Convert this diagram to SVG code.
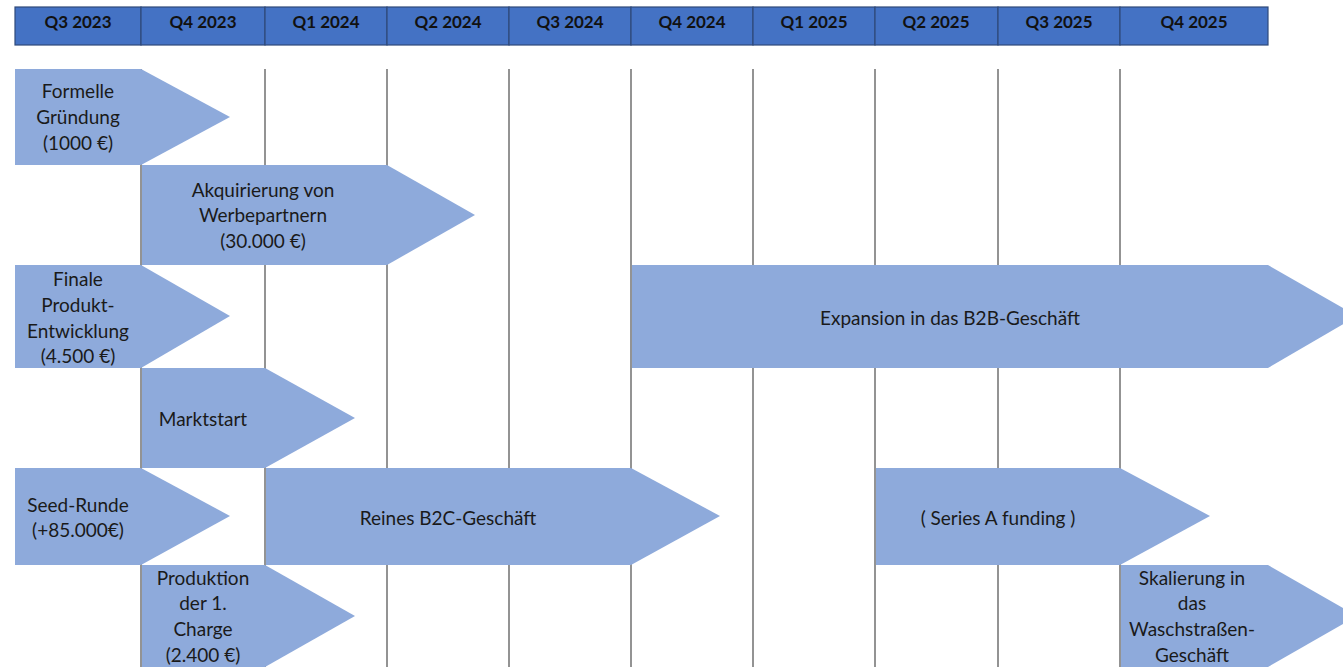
<svg xmlns="http://www.w3.org/2000/svg" width="1343" height="667" viewBox="0 0 1343 667">
<style>
.hdr{fill:#4472C4;stroke:#2F4A7A;stroke-width:1.2}
.htxt{font-family:Lato,"Open Sans",sans-serif;font-weight:bold;font-size:17px;fill:#111;text-anchor:middle}
.grid{stroke:#6f6f6f;stroke-width:1.5}
.arr{fill:#8EAADB}
.t{font-family:Lato,"Open Sans",sans-serif;font-size:19px;fill:#1a1a1a;text-anchor:middle}
</style>
<rect width="1343" height="667" fill="#fff"/>
<g id="header">
<rect class="hdr" x="15" y="7" width="126" height="38"/>
<rect class="hdr" x="141" y="7" width="124" height="38"/>
<rect class="hdr" x="265" y="7" width="122" height="38"/>
<rect class="hdr" x="387" y="7" width="122" height="38"/>
<rect class="hdr" x="509" y="7" width="122" height="38"/>
<rect class="hdr" x="631" y="7" width="122" height="38"/>
<rect class="hdr" x="753" y="7" width="122" height="38"/>
<rect class="hdr" x="875" y="7" width="123" height="38"/>
<rect class="hdr" x="998" y="7" width="122" height="38"/>
<rect class="hdr" x="1120" y="7" width="148" height="38"/>
<text class="htxt" x="78" y="28">Q3 2023</text>
<text class="htxt" x="203" y="28">Q4 2023</text>
<text class="htxt" x="326" y="28">Q1 2024</text>
<text class="htxt" x="448" y="28">Q2 2024</text>
<text class="htxt" x="570" y="28">Q3 2024</text>
<text class="htxt" x="692" y="28">Q4 2024</text>
<text class="htxt" x="814" y="28">Q1 2025</text>
<text class="htxt" x="936" y="28">Q2 2025</text>
<text class="htxt" x="1059" y="28">Q3 2025</text>
<text class="htxt" x="1194" y="28">Q4 2025</text>
</g>
<g id="connectors">
<line class="grid" x1="141" y1="69" x2="141" y2="667"/>
<line class="grid" x1="265" y1="69" x2="265" y2="667"/>
<line class="grid" x1="387" y1="69" x2="387" y2="667"/>
<line class="grid" x1="509" y1="69" x2="509" y2="667"/>
<line class="grid" x1="631" y1="69" x2="631" y2="667"/>
<line class="grid" x1="753" y1="69" x2="753" y2="667"/>
<line class="grid" x1="875" y1="69" x2="875" y2="667"/>
<line class="grid" x1="998" y1="69" x2="998" y2="667"/>
<line class="grid" x1="1120" y1="69" x2="1120" y2="667"/>
</g>
<g id="formelle">
<polygon class="arr" points="15,69 141,69 230,117 141,165 15,165"/>
<text class="t" x="78" y="98">Formelle</text>
<text class="t" x="78" y="124">Gründung</text>
<text class="t" x="78" y="150">(1000 €)</text>
</g>
<g id="akquirierung">
<polygon class="arr" points="142,165 387,165 475,215 387,265 142,265"/>
<text class="t" x="263" y="197">Akquirierung von</text>
<text class="t" x="263" y="222">Werbepartnern</text>
<text class="t" x="263" y="248">(30.000 €)</text>
</g>
<g id="finale">
<polygon class="arr" points="15,265 141,265 230,316 141,368 15,368"/>
<text class="t" x="78" y="286">Finale</text>
<text class="t" x="78" y="312">Produkt-</text>
<text class="t" x="78" y="338">Entwicklung</text>
<text class="t" x="78" y="363">(4.500 €)</text>
</g>
<g id="expansion">
<polygon class="arr" points="632,265 1268,265 1357,316 1268,368 632,368"/>
<text class="t" x="950" y="325">Expansion in das B2B-Geschäft</text>
</g>
<g id="marktstart">
<polygon class="arr" points="142,368 265,368 355,418 265,468 142,468"/>
<text class="t" x="203" y="426">Marktstart</text>
</g>
<g id="seed">
<polygon class="arr" points="15,468 141,468 230,516 141,565 15,565"/>
<text class="t" x="78" y="512">Seed-Runde</text>
<text class="t" x="78" y="537">(+85.000€)</text>
</g>
<g id="b2c">
<polygon class="arr" points="266,468 631,468 720,516 631,565 266,565"/>
<text class="t" x="448" y="525">Reines B2C-Geschäft</text>
</g>
<g id="seriesa">
<polygon class="arr" points="876,468 1120,468 1210,516 1120,565 876,565"/>
<text class="t" x="998" y="525">( Series A funding )</text>
</g>
<g id="produktion">
<polygon class="arr" points="142,565 265,565 355,616 265,667 142,667"/>
<text class="t" x="203" y="585">Produktion</text>
<text class="t" x="203" y="610">der 1.</text>
<text class="t" x="203" y="636">Charge</text>
<text class="t" x="203" y="662">(2.400 €)</text>
</g>
<g id="skalierung">
<polygon class="arr" points="1121,565 1268,565 1357,616 1268,667 1121,667"/>
<text class="t" x="1192" y="585">Skalierung in</text>
<text class="t" x="1192" y="610">das</text>
<text class="t" x="1192" y="636">Waschstraßen-</text>
<text class="t" x="1192" y="662">Geschäft</text>
</g>
</svg>
